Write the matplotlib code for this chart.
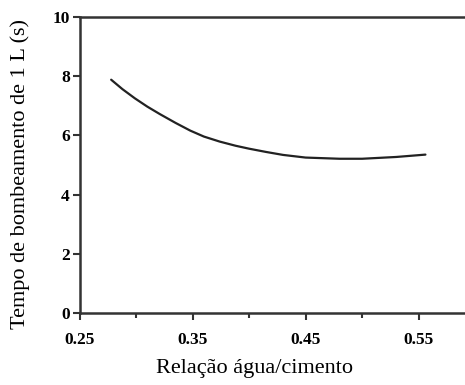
import matplotlib
matplotlib.use("Agg")
import matplotlib.pyplot as plt
from matplotlib.ticker import FixedLocator

# data
ratio = [0.278, 0.288, 0.299, 0.31, 0.321, 0.335, 0.348, 0.36, 0.374, 0.388, 0.40, 0.415, 0.43, 0.45, 0.48, 0.50, 0.53, 0.556]
tempo = [7.88, 7.56, 7.25, 6.97, 6.72, 6.42, 6.16, 5.96, 5.79, 5.65, 5.55, 5.44, 5.34, 5.25, 5.21, 5.21, 5.27, 5.35]
xticks = [0.25, 0.35, 0.45, 0.55]
xticklabels = ["0.25", "0.35", "0.45", "0.55"]
xminor = [0.30, 0.40, 0.50]
yticks = [0, 2, 4, 6, 8, 10]

plt.rcParams['font.family'] = ['Liberation Serif', 'DejaVu Serif']

fig = plt.figure(figsize=(4.65, 3.85), dpi=100)
ax = fig.add_axes([0.171, 0.187, 0.829, 0.769])

ax.plot(ratio, tempo, color='#222222', lw=1.6, solid_capstyle='round')

ax.set_xlim(0.25, 0.591)
ax.set_ylim(0, 10)
ax.set_xticks(xticks)
ax.set_xticklabels(xticklabels, fontweight='bold', fontsize=12.5)
ax.xaxis.set_minor_locator(FixedLocator(xminor))
ax.set_yticks(yticks)
ax.set_yticklabels([str(v) for v in yticks], fontweight='bold', fontsize=12.5)

ax.tick_params(axis='both', which='major', direction='out', length=5, width=1.5,
               color='#333333', pad=9)
ax.tick_params(axis='y', which='major', pad=2)
ax.tick_params(axis='x', which='minor', direction='out', length=3.5, width=1.5, color='#333333')

for s in ['left', 'bottom', 'top']:
    ax.spines[s].set_linewidth(1.8)
    ax.spines[s].set_color('#333333')
ax.spines['right'].set_visible(False)

ax.set_xlabel('Relação água/cimento', fontsize=16)
ax.xaxis.set_label_coords(0.455, -0.155)
ax.set_ylabel('Tempo de bombeamento de 1 L (s)', fontsize=16)
ax.yaxis.set_label_coords(-0.128, 0.47)

fig.savefig('out.png', dpi=100)
